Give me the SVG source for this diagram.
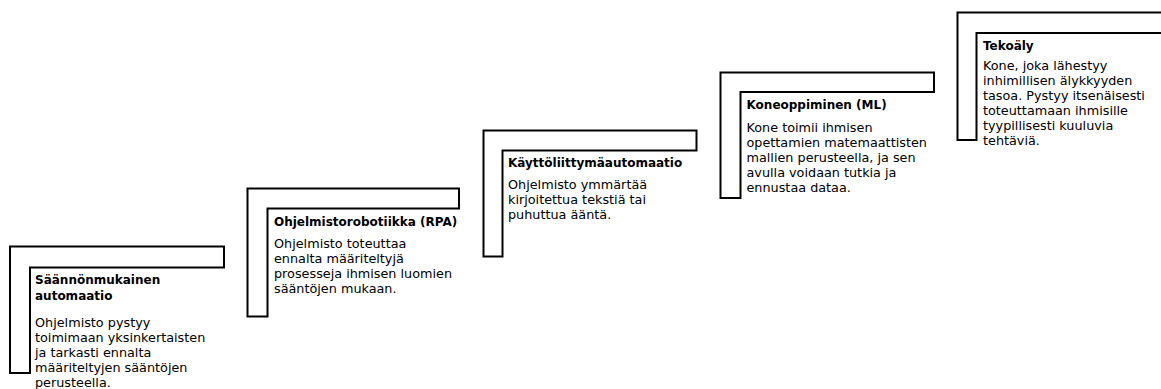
<svg xmlns="http://www.w3.org/2000/svg" width="1161" height="389" viewBox="0 0 1161 389">
<style>
.step{fill:#fff;stroke:#000;stroke-width:2;stroke-linejoin:miter}
.t{font-family:"DejaVu Sans",sans-serif;font-weight:bold;font-size:12px;fill:#000}
.b{font-family:"DejaVu Sans",sans-serif;font-size:12.8px;fill:#000}
</style>
<rect width="1161" height="389" fill="#fff"/>
<g id="connectors"></g>
<g id="step1">
<polygon class="step" points="10,246.5 224,246.5 224,267.5 30,267.5 30,373 10,373"/>
<text class="t" x="35" y="283.5">Säännönmukainen</text>
<text class="t" x="35" y="300">automaatio</text>
<text class="b" x="35" y="326.5">Ohjelmisto pystyy</text>
<text class="b" x="35" y="341.5">toimimaan yksinkertaisten</text>
<text class="b" x="35" y="356.5">ja tarkasti ennalta</text>
<text class="b" x="35" y="371.5">määriteltyjen sääntöjen</text>
<text class="b" x="35" y="386.5">perusteella.</text>
</g>
<g id="step2">
<polygon class="step" points="247.5,188.5 459,188.5 459,208.5 267.5,208.5 267.5,316.5 247.5,316.5"/>
<text class="t" x="274" y="225.8">Ohjelmistorobotiikka (RPA)</text>
<text class="b" x="274" y="248.3">Ohjelmisto toteuttaa</text>
<text class="b" x="274" y="263.3">ennalta määriteltyjä</text>
<text class="b" x="274" y="278.3">prosesseja ihmisen luomien</text>
<text class="b" x="274" y="293.3">sääntöjen mukaan.</text>
</g>
<g id="step3">
<polygon class="step" points="483.5,130.5 696.5,130.5 696.5,150.5 502.5,150.5 502.5,256.5 483.5,256.5"/>
<text class="t" x="508" y="166.5">Käyttöliittymäautomaatio</text>
<text class="b" x="508" y="189.3">Ohjelmisto ymmärtää</text>
<text class="b" x="508" y="204.3">kirjoitettua tekstiä tai</text>
<text class="b" x="508" y="219.3">puhuttua ääntä.</text>
</g>
<g id="step4">
<polygon class="step" points="720.5,72.5 934,72.5 934,92 740.5,92 740.5,198 720.5,198"/>
<text class="t" x="746.5" y="109.3">Koneoppiminen (ML)</text>
<text class="b" x="746.5" y="131.7">Kone toimii ihmisen</text>
<text class="b" x="746.5" y="146.7">opettamien matemaattisten</text>
<text class="b" x="746.5" y="161.7">mallien perusteella, ja sen</text>
<text class="b" x="746.5" y="176.7">avulla voidaan tutkia ja</text>
<text class="b" x="746.5" y="191.7">ennustaa dataa.</text>
</g>
<g id="step5">
<polygon class="step" points="957.5,12.5 1172,12.5 1172,33 976.5,33 976.5,140 957.5,140"/>
<text class="t" x="983" y="50">Tekoäly</text>
<text class="b" x="983" y="69.5">Kone, joka lähestyy</text>
<text class="b" x="983" y="84.5">inhimillisen älykkyyden</text>
<text class="b" x="983" y="99.5">tasoa. Pystyy itsenäisesti</text>
<text class="b" x="983" y="114.5">toteuttamaan ihmisille</text>
<text class="b" x="983" y="129.5">tyypillisesti kuuluvia</text>
<text class="b" x="983" y="144.5">tehtäviä.</text>
</g>
</svg>
